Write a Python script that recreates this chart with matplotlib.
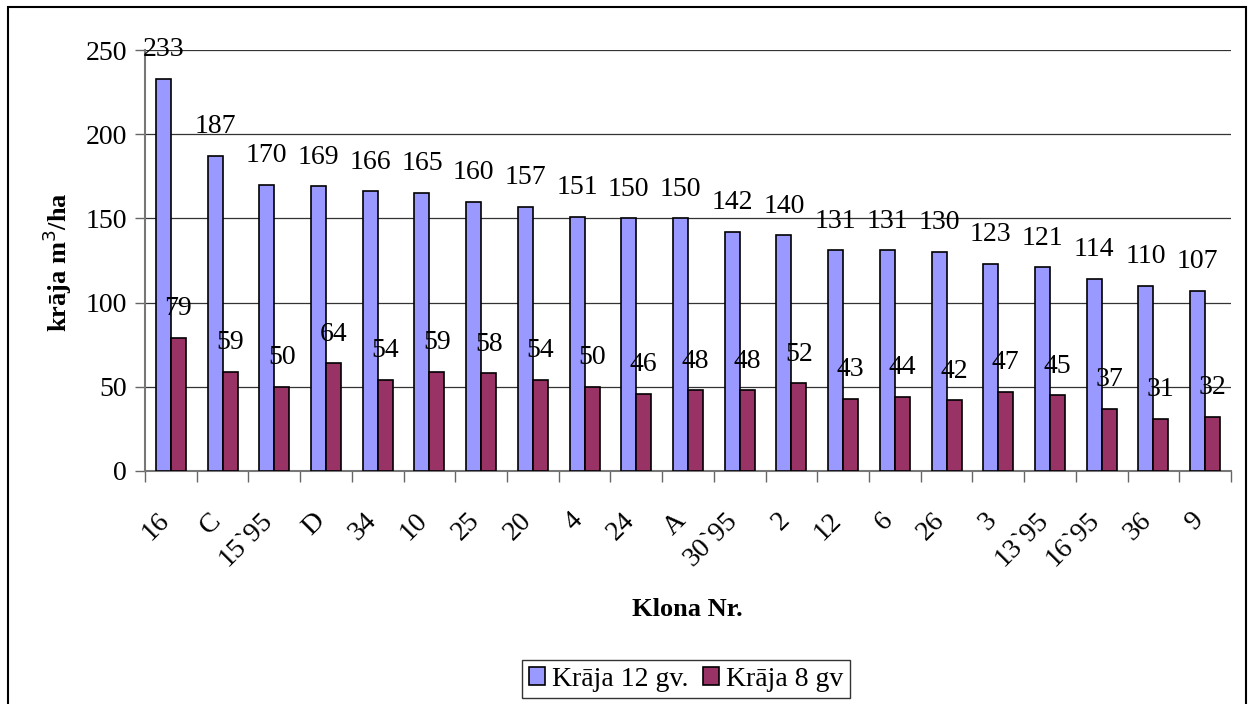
import numpy as np
import matplotlib.pyplot as plt
from matplotlib.patches import Rectangle

plt.rcParams['font.family'] = ['Liberation Serif', 'DejaVu Serif']

# Clone numbers and standing volume (m3/ha)
clones = ['16', 'C', '15`95', 'D', '34', '10', '25', '20', '4', '24', 'A',
          '30`95', '2', '12', '6', '26', '3', '13`95', '16`95', '36', '9']
vol_12 = [233, 187, 170, 169, 166, 165, 160, 157, 151, 150, 150,
          142, 140, 131, 131, 130, 123, 121, 114, 110, 107]
vol_8 = [79, 59, 50, 64, 54, 59, 58, 54, 50, 46, 48,
         48, 52, 43, 44, 42, 47, 45, 37, 31, 32]
series_names = ['Krāja 12 gv.', 'Krāja 8 gv']

blue = '#9999FF'
maroon = '#993366'

fig = plt.figure(figsize=(12.48, 7.04), dpi=100)
ax = fig.add_axes([145/1248, 1 - 471/704, 1086/1248, 421/704])

x = np.arange(len(clones))
w = 0.29
b1 = ax.bar(x - w/2, vol_12, w, color=blue, edgecolor='black', linewidth=1.2,
            label=series_names[0], zorder=3)
b2 = ax.bar(x + w/2, vol_8, w, color=maroon, edgecolor='black', linewidth=1.2,
            label=series_names[1], zorder=3)

for bars, vals in ((b1, vol_12), (b2, vol_8)):
    for r, v in zip(bars, vals):
        ax.annotate(str(v), (r.get_x() + r.get_width()/2, v),
                    xytext=(0, 12), textcoords='offset points',
                    ha='center', va='bottom', fontsize=20, zorder=4)

ax.set_xlim(-0.5, len(clones) - 0.5)
ax.set_ylim(0, 250)
ax.set_yticks(range(0, 251, 50))
ax.yaxis.grid(True, color='#333333', linewidth=0.9, zorder=0)
ax.tick_params(axis='y', labelsize=20, length=7, width=1, color='#666666', pad=6)

# category boundaries carry the tick marks, names sit at the centres
ax.set_xticks(np.arange(-0.5, len(clones)), minor=False)
ax.set_xticklabels([])
ax.tick_params(axis='x', length=8, width=1, color='#666666')
for i, name in enumerate(clones):
    ax.annotate(name, (i, 0), xytext=(-4, -33), textcoords='offset points',
                rotation=45, rotation_mode='anchor', ha='right', va='center',
                fontsize=20, annotation_clip=False)

for s in ('top', 'right'):
    ax.spines[s].set_visible(False)
ax.spines['left'].set_color('#777777')
ax.spines['bottom'].set_color('#777777')
ax.spines['left'].set_linewidth(1.5)
ax.spines['bottom'].set_linewidth(1.5)

fig.text(57/1248, 1 - 262/704, 'krāja m$^3$/ha', rotation=90, ha='center',
         va='center', fontsize=19, fontweight='bold')
fig.text(687/1248, 1 - 610/704, 'Klona Nr.', ha='center', va='center',
         fontsize=19, fontweight='bold')

leg = fig.legend(loc='center', bbox_to_anchor=(686/1248, 1 - 679/704),
                 ncol=2, fontsize=20, frameon=True, fancybox=False,
                 edgecolor='black', handlelength=0.6, handleheight=0.6,
                 handletextpad=0.25, columnspacing=0.5, borderpad=0.25,
                 borderaxespad=0)
leg.get_frame().set_linewidth(1.0)

# outer chart frame
fig.patches.append(Rectangle((8/1248, -0.01), 1238/1248, 1 - 7/704 + 0.01,
                             transform=fig.transFigure, fill=False,
                             edgecolor='black', linewidth=1.5))

fig.savefig('out.png', dpi=100)
